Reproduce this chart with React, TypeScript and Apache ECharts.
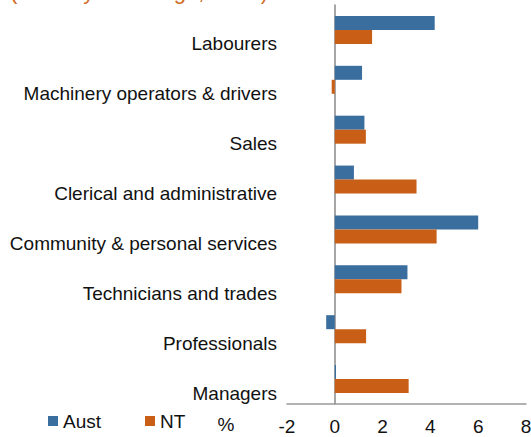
import React, { useEffect, useRef } from "react";
import * as echarts from "echarts";

const categories = [
  "Labourers",
  "Machinery operators & drivers",
  "Sales",
  "Clerical and administrative",
  "Community & personal services",
  "Technicians and trades",
  "Professionals",
  "Managers",
];
const austValues = [4.18, 1.14, 1.24, 0.8, 6.0, 3.04, -0.36, 0.05];
const ntValues = [1.56, -0.13, 1.3, 3.42, 4.26, 2.79, 1.31, 3.09];
const seriesNames = ["Aust", "NT"];
const xTicks = { min: -2, max: 8, interval: 2 };
const titleText = "(Monthly % change, trend)";
const unitText = "%";

const FONT = "'Liberation Sans', Arial, sans-serif";
const BLUE = "#3A6E9E";
const ORANGE = "#C95F17";

export default function App() {
  const ref = useRef<HTMLDivElement>(null);
  useEffect(() => {
    if (!ref.current) return;
    const chart = echarts.init(ref.current, null, { renderer: "svg" });
    chart.setOption({
      animation: false,
      textStyle: { fontFamily: FONT },
      grid: {
        left: 287,
        right: 5,
        top: 5,
        bottom: 33,
        containLabel: false,
        outerBoundsMode: "none",
      },
      legend: {
        left: 43,
        top: 406,
        icon: "rect",
        itemWidth: 10,
        itemHeight: 10,
        itemGap: 44,
        textStyle: { fontFamily: FONT, fontSize: 19, color: "#111", lineHeight: 20 },
        data: seriesNames,
      },
      xAxis: {
        type: "value",
        min: xTicks.min,
        max: xTicks.max,
        interval: xTicks.interval,
        axisLine: { show: true, lineStyle: { color: "#999", width: 1.5 } },
        axisTick: { show: false },
        splitLine: { show: false },
        axisLabel: { fontFamily: FONT, fontSize: 19, color: "#111", margin: 13 },
      },
      yAxis: {
        type: "category",
        inverse: true,
        data: categories,
        axisLine: { show: true, onZero: true, lineStyle: { color: "#888", width: 1.5 } },
        axisTick: { show: false },
        splitLine: { show: false },
        axisLabel: {
          fontFamily: FONT,
          fontSize: 19,
          color: "#111",
          margin: 10,
          verticalAlign: "top",
          lineHeight: 28,
        },
      },
      series: [
        {
          name: seriesNames[0],
          type: "bar",
          data: austValues,
          barWidth: 14,
          barGap: "0%",
          itemStyle: { color: BLUE },
        },
        {
          name: seriesNames[1],
          type: "bar",
          data: ntValues,
          barWidth: 14,
          barGap: "0%",
          itemStyle: { color: ORANGE },
        },
      ],
      graphic: [
        {
          type: "text",
          x: 10,
          y: -9,
          style: {
            text: titleText,
            fontFamily: FONT,
            fontSize: 22,
            fill: "#D06A25",
            verticalAlign: "middle",
          },
        },
        {
          type: "text",
          x: 226,
          y: 424,
          style: {
            text: unitText,
            fontFamily: FONT,
            fontSize: 19,
            fill: "#111",
            align: "center",
            verticalAlign: "middle",
          },
        },
      ],
    });
    return () => chart.dispose();
  }, []);
  return (
    <div
      ref={ref}
      style={{ position: "absolute", left: 0, top: 0, width: 531, height: 437 }}
    />
  );
}
